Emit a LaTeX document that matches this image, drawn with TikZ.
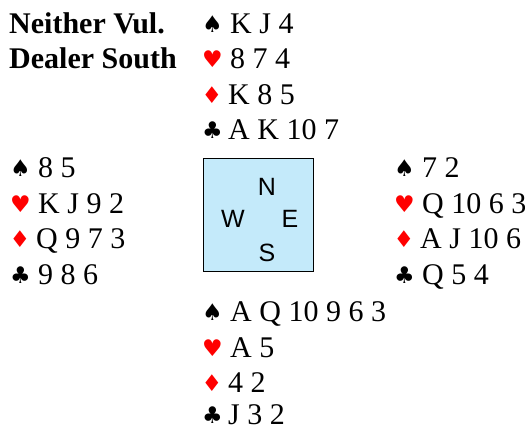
\documentclass[tikz,border=0pt]{standalone}
\usepackage{fontspec}
\setmainfont{Liberation Serif}
\newfontfamily\neswfont{Liberation Sans}
\newfontfamily\suitfont{DejaVu Sans}
\definecolor{boxblue}{RGB}{196,234,250}
\definecolor{suitred}{RGB}{255,0,0}
\begin{document}
\begin{tikzpicture}[x=1pt,y=-1pt,
  cards/.style={anchor=base west,inner sep=0pt,font=\fontsize{30}{30}\selectfont},
  suit/.style={anchor=base west,inner sep=0pt,font=\fontsize{23}{23}\selectfont\suitfont},
  redsuit/.style={suit,text=suitred},
  title/.style={anchor=base west,inner sep=0pt,font=\fontsize{30}{30}\selectfont\bfseries},
  dir/.style={inner sep=0pt,font=\fontsize{25}{25}\selectfont\neswfont},
  table/.style={draw=black,line width=1.5pt,fill=boxblue}]
\useasboundingbox (0,0) rectangle (525,431);
% titles
\node[title] (t1) at (9,33) {Neither Vul.};
\node[title] (t2) at (9,68.5) {Dealer South};
% North
\node[suit] (ns) at (202,32) {♠};
\node[cards] (nsc) at (230,33) {K J 4};
\node[redsuit] (nh) at (202,67.5) {♥};
\node[cards] (nhc) at (230,68.5) {8 7 4};
\node[redsuit] (nd) at (201.5,103) {♦};
\node[cards] (ndc) at (228,104) {K 8 5};
\node[suit] (nc) at (202,138.5) {♣};
\node[cards] (ncc) at (228,139.5) {A K 10 7};
% West
\node[suit] (ws) at (10,176) {♠};
\node[cards] (wsc) at (38,177) {8 5};
\node[redsuit] (wh) at (10,212) {♥};
\node[cards] (whc) at (38,213) {K J 9 2};
\node[redsuit] (wd) at (9.5,247.5) {♦};
\node[cards] (wdc) at (36,248.5) {Q 9 7 3};
\node[suit] (wc) at (10,283) {♣};
\node[cards] (wcc) at (38,284) {9 8 6};
% East
\node[suit] (es) at (394,176) {♠};
\node[cards] (esc) at (422,177) {7 2};
\node[redsuit] (eh) at (394,212) {♥};
\node[cards] (ehc) at (422,213) {Q 10 6 3};
\node[redsuit] (ed) at (393.5,247.5) {♦};
\node[cards] (edc) at (420,248.5) {A J 10 6};
\node[suit] (ec) at (394,283) {♣};
\node[cards] (ecc) at (422,284) {Q 5 4};
% South
\node[suit] (ss) at (202,320) {♠};
\node[cards] (ssc) at (230,321) {A Q 10 9 6 3};
\node[redsuit] (sh) at (202,356) {♥};
\node[cards] (shc) at (230,357) {A 5};
\node[redsuit] (sd) at (201.5,391.5) {♦};
\node[cards] (sdc) at (228,392.5) {4 2};
\node[suit] (sc) at (202,423) {♣};
\node[cards] (scc) at (228,424) {J 3 2};
% table
\node[table,minimum width=110pt,minimum height=113pt,inner sep=0pt] (tbl) at (258.5,215) {};
\node[dir] (dn) at (267,187) {N};
\node[dir] (dw) at (233,219) {W};
\node[dir] (de) at (290,219) {E};
\node[dir] (ds) at (267,253) {S};
\end{tikzpicture}
\end{document}
